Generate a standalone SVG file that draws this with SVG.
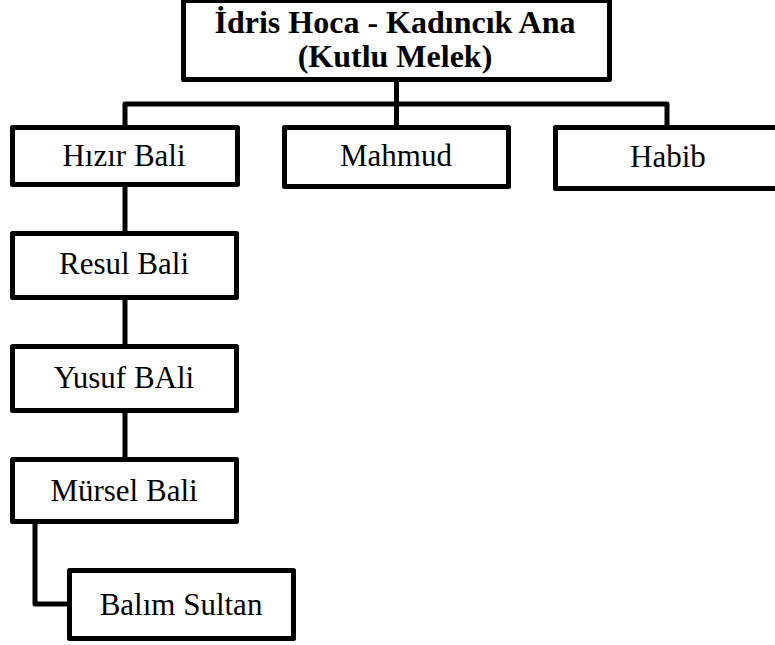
<svg xmlns="http://www.w3.org/2000/svg" width="775" height="645" viewBox="0 0 775 645">
  <style>
    .box { fill: #ffffff; stroke: #000000; stroke-width: 5; stroke-linejoin: round; }
    .conn { fill: none; stroke: #000000; stroke-width: 5; stroke-linejoin: round; }
    text { font-family: 'Liberation Serif', 'Times New Roman', Times, serif; fill: #000000; text-anchor: middle; }
    .lbl { font-size: 31px; }
    .title { font-size: 32px; font-weight: bold; }
  </style>
  <rect width="775" height="645" fill="#ffffff"/>
  <g id="connectors">
    <path class="conn" d="M396.5,79.5 V127.5"/>
    <path class="conn" d="M125,127.5 V104 H667 V127.5"/>
    <path class="conn" d="M125,184.5 V233.5"/>
    <path class="conn" d="M125,297.5 V346.5"/>
    <path class="conn" d="M125,410.5 V459.5"/>
    <path class="conn" d="M35,521.5 V604 H69.5"/>
  </g>
  <g id="node-idris">
    <rect class="box" x="183.5" y="0.5" width="426" height="79"/>
    <text class="title" x="395" y="33" font-family="Liberation Serif, serif">İdris Hoca - Kadıncık Ana</text>
    <text class="title" x="395" y="67" font-family="Liberation Serif, serif">(Kutlu Melek)</text>
  </g>
  <g id="node-hizir">
    <rect class="box" x="12.5" y="127.5" width="225" height="57"/>
    <text class="lbl" x="124" y="166">Hızır Bali</text>
  </g>
  <g id="node-mahmud">
    <rect class="box" x="284.5" y="127.5" width="224" height="59"/>
    <text class="lbl" x="396" y="166">Mahmud</text>
  </g>
  <g id="node-habib">
    <rect class="box" x="555.5" y="127.5" width="240" height="61"/>
    <text class="lbl" x="668" y="167">Habib</text>
  </g>
  <g id="node-resul">
    <rect class="box" x="12.5" y="233.5" width="224" height="64"/>
    <text class="lbl" x="124" y="274">Resul Bali</text>
  </g>
  <g id="node-yusuf">
    <rect class="box" x="12.5" y="346.5" width="224" height="64"/>
    <text class="lbl" x="124" y="388">Yusuf BAli</text>
  </g>
  <g id="node-mursel">
    <rect class="box" x="12.5" y="459.5" width="224" height="62"/>
    <text class="lbl" x="124" y="501">Mürsel Bali</text>
  </g>
  <g id="node-balim">
    <rect class="box" x="69.5" y="570.5" width="224" height="68"/>
    <text class="lbl" x="181" y="615">Balım Sultan</text>
  </g>
</svg>
